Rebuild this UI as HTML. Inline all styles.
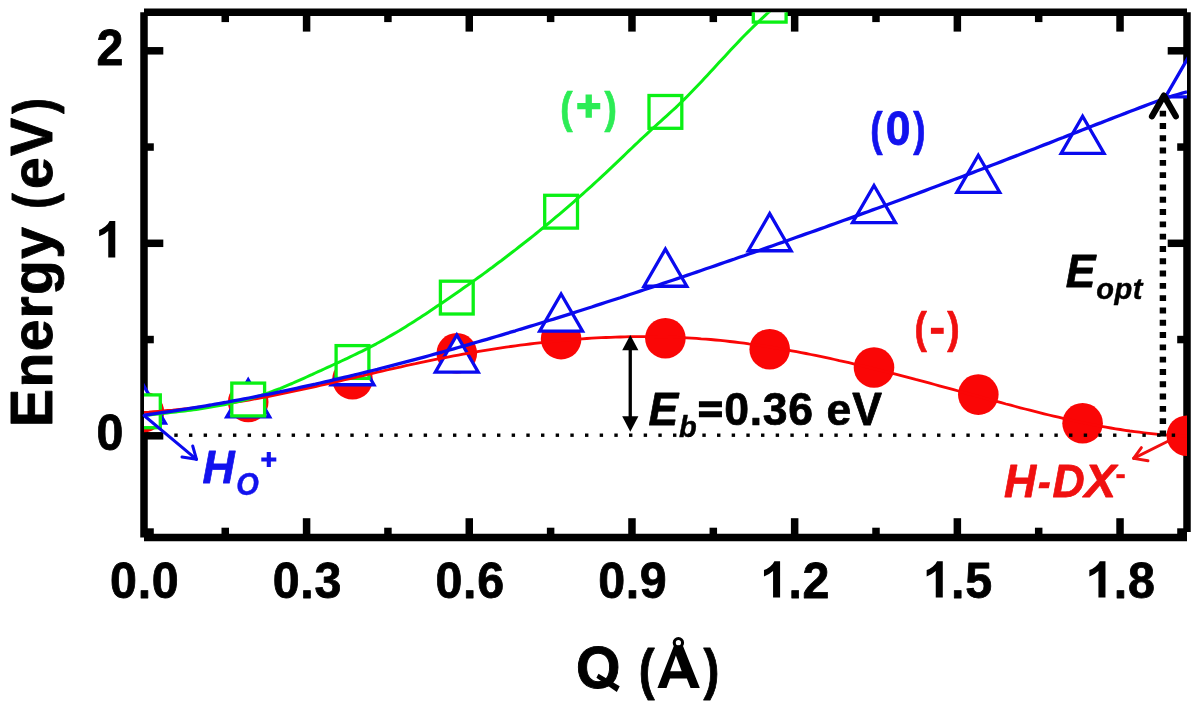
<!DOCTYPE html>
<html><head><meta charset="utf-8"><title>Energy vs Q</title>
<style>html,body{margin:0;padding:0;background:#fff;}svg{display:block;}text{font-family:"Liberation Sans",sans-serif;font-weight:bold;font-kerning:none;font-variant-ligatures:none;white-space:pre;}svg{will-change:transform;}.i{font-style:italic;}</style></head><body>
<svg width="1200" height="710" viewBox="0 0 1200 710">
<rect x="0" y="0" width="1200" height="710" fill="#ffffff"/>
<defs><clipPath id="plot"><rect x="144.0" y="12.3" width="1043.0" height="525.2"/></clipPath></defs>
<g stroke="#000" stroke-width="7.5" stroke-linecap="butt" fill="none">
<line x1="144.0" y1="12.3" x2="1187.0" y2="12.3"/>
<line x1="144.0" y1="537.5" x2="1187.0" y2="537.5"/>
<line x1="144.0" y1="12.3" x2="144.0" y2="537.5"/>
<line x1="1187.0" y1="12.3" x2="1187.0" y2="532.05"/>
<line x1="225.25" y1="12.3" x2="225.25" y2="22.10"/>
<line x1="225.25" y1="537.5" x2="225.25" y2="527.70"/>
<line x1="306.59" y1="12.3" x2="306.59" y2="31.60"/>
<line x1="306.59" y1="537.5" x2="306.59" y2="518.20"/>
<line x1="387.93" y1="12.3" x2="387.93" y2="22.10"/>
<line x1="387.93" y1="537.5" x2="387.93" y2="527.70"/>
<line x1="469.28" y1="12.3" x2="469.28" y2="31.60"/>
<line x1="469.28" y1="537.5" x2="469.28" y2="518.20"/>
<line x1="550.62" y1="12.3" x2="550.62" y2="22.10"/>
<line x1="550.62" y1="537.5" x2="550.62" y2="527.70"/>
<line x1="631.97" y1="12.3" x2="631.97" y2="31.60"/>
<line x1="631.97" y1="537.5" x2="631.97" y2="518.20"/>
<line x1="713.31" y1="12.3" x2="713.31" y2="22.10"/>
<line x1="713.31" y1="537.5" x2="713.31" y2="527.70"/>
<line x1="794.66" y1="12.3" x2="794.66" y2="31.60"/>
<line x1="794.66" y1="537.5" x2="794.66" y2="518.20"/>
<line x1="876.00" y1="12.3" x2="876.00" y2="22.10"/>
<line x1="876.00" y1="537.5" x2="876.00" y2="527.70"/>
<line x1="957.35" y1="12.3" x2="957.35" y2="31.60"/>
<line x1="957.35" y1="537.5" x2="957.35" y2="518.20"/>
<line x1="1038.69" y1="12.3" x2="1038.69" y2="22.10"/>
<line x1="1038.69" y1="537.5" x2="1038.69" y2="527.70"/>
<line x1="1120.04" y1="12.3" x2="1120.04" y2="31.60"/>
<line x1="1120.04" y1="537.5" x2="1120.04" y2="518.20"/>
<line x1="144.0" y1="532.05" x2="153.80" y2="532.05"/>
<line x1="1187.0" y1="532.05" x2="1177.20" y2="532.05"/>
<line x1="144.0" y1="435.80" x2="163.30" y2="435.80"/>
<line x1="1187.0" y1="435.80" x2="1167.70" y2="435.80"/>
<line x1="144.0" y1="339.55" x2="153.80" y2="339.55"/>
<line x1="1187.0" y1="339.55" x2="1177.20" y2="339.55"/>
<line x1="144.0" y1="243.30" x2="163.30" y2="243.30"/>
<line x1="1187.0" y1="243.30" x2="1167.70" y2="243.30"/>
<line x1="144.0" y1="147.05" x2="153.80" y2="147.05"/>
<line x1="1187.0" y1="147.05" x2="1177.20" y2="147.05"/>
<line x1="144.0" y1="50.80" x2="163.30" y2="50.80"/>
<line x1="1187.0" y1="50.80" x2="1167.70" y2="50.80"/>
</g>
<text font-size="50" fill="#000" stroke="#000" stroke-width="0.80" stroke-linejoin="round" transform="translate(109.65 597.60) scale(0.9680 1.0028)" x="0.46" y="0" xml:space="preserve">0</text>
<text font-size="50" fill="#000" stroke="#000" stroke-width="0.80" stroke-linejoin="round" transform="translate(137.46 597.60) scale(0.9680 1.0000)" x="0.23" y="0" xml:space="preserve">.</text>
<text font-size="50" fill="#000" stroke="#000" stroke-width="0.80" stroke-linejoin="round" transform="translate(151.35 597.60) scale(0.9680 1.0028)" x="0.46" y="0" xml:space="preserve">0</text>
<text font-size="50" fill="#000" stroke="#000" stroke-width="0.80" stroke-linejoin="round" transform="translate(272.34 597.60) scale(0.9680 1.0028)" x="0.46" y="0" xml:space="preserve">0</text>
<text font-size="50" fill="#000" stroke="#000" stroke-width="0.80" stroke-linejoin="round" transform="translate(300.15 597.60) scale(0.9680 1.0000)" x="0.23" y="0" xml:space="preserve">.</text>
<text font-size="50" fill="#000" stroke="#000" stroke-width="0.80" stroke-linejoin="round" transform="translate(314.04 597.60) scale(0.9680 1.0028)" x="0.46" y="0" xml:space="preserve">3</text>
<text font-size="50" fill="#000" stroke="#000" stroke-width="0.80" stroke-linejoin="round" transform="translate(435.03 597.60) scale(0.9680 1.0028)" x="0.46" y="0" xml:space="preserve">0</text>
<text font-size="50" fill="#000" stroke="#000" stroke-width="0.80" stroke-linejoin="round" transform="translate(462.84 597.60) scale(0.9680 1.0000)" x="0.23" y="0" xml:space="preserve">.</text>
<text font-size="50" fill="#000" stroke="#000" stroke-width="0.80" stroke-linejoin="round" transform="translate(476.73 597.60) scale(0.9680 1.0028)" x="0.46" y="0" xml:space="preserve">6</text>
<text font-size="50" fill="#000" stroke="#000" stroke-width="0.80" stroke-linejoin="round" transform="translate(597.72 597.60) scale(0.9680 1.0028)" x="0.46" y="0" xml:space="preserve">0</text>
<text font-size="50" fill="#000" stroke="#000" stroke-width="0.80" stroke-linejoin="round" transform="translate(625.53 597.60) scale(0.9680 1.0000)" x="0.23" y="0" xml:space="preserve">.</text>
<text font-size="50" fill="#000" stroke="#000" stroke-width="0.80" stroke-linejoin="round" transform="translate(639.42 597.60) scale(0.9680 1.0028)" x="0.46" y="0" xml:space="preserve">9</text>
<path d="M780.09 597.60 L773.06 597.60 L773.06 571.11 Q769.20 574.72 763.97 576.46 L763.97 570.09 Q766.73 569.18 769.96 566.67 Q773.20 564.13 774.40 561.22 L780.09 561.22 Z" fill="#000"/>
<text font-size="50" fill="#000" stroke="#000" stroke-width="0.80" stroke-linejoin="round" transform="translate(788.21 597.60) scale(0.9680 1.0000)" x="0.23" y="0" xml:space="preserve">.</text>
<text font-size="50" fill="#000" stroke="#000" stroke-width="0.80" stroke-linejoin="round" transform="translate(802.10 597.60) scale(0.9680 1.0028)" x="0.46" y="0" xml:space="preserve">2</text>
<path d="M942.78 597.60 L935.75 597.60 L935.75 571.11 Q931.89 574.72 926.66 576.46 L926.66 570.09 Q929.42 569.18 932.65 566.67 Q935.89 564.13 937.09 561.22 L942.78 561.22 Z" fill="#000"/>
<text font-size="50" fill="#000" stroke="#000" stroke-width="0.80" stroke-linejoin="round" transform="translate(950.90 597.60) scale(0.9680 1.0000)" x="0.23" y="0" xml:space="preserve">.</text>
<text font-size="50" fill="#000" stroke="#000" stroke-width="0.80" stroke-linejoin="round" transform="translate(964.79 597.60) scale(0.9680 1.0028)" x="0.46" y="0" xml:space="preserve">5</text>
<path d="M1105.47 597.60 L1098.44 597.60 L1098.44 571.11 Q1094.58 574.72 1089.35 576.46 L1089.35 570.09 Q1092.11 569.18 1095.34 566.67 Q1098.58 564.13 1099.78 561.22 L1105.47 561.22 Z" fill="#000"/>
<text font-size="50" fill="#000" stroke="#000" stroke-width="0.80" stroke-linejoin="round" transform="translate(1113.59 597.60) scale(0.9680 1.0000)" x="0.23" y="0" xml:space="preserve">.</text>
<text font-size="50" fill="#000" stroke="#000" stroke-width="0.80" stroke-linejoin="round" transform="translate(1127.48 597.60) scale(0.9680 1.0028)" x="0.46" y="0" xml:space="preserve">8</text>
<text font-size="50" fill="#000" stroke="#000" stroke-width="0.80" stroke-linejoin="round" transform="translate(96.00 450.00) scale(0.9680 1.0028)" x="0.46" y="0" xml:space="preserve">0</text>
<path d="M115.28 257.50 L108.25 257.50 L108.25 231.01 Q104.39 234.62 99.16 236.36 L99.16 229.99 Q101.92 229.08 105.15 226.57 Q108.39 224.03 109.59 221.12 L115.28 221.12 Z" fill="#000"/>
<text font-size="50" fill="#000" stroke="#000" stroke-width="0.80" stroke-linejoin="round" transform="translate(96.00 65.00) scale(0.9680 1.0028)" x="0.46" y="0" xml:space="preserve">2</text>
<text font-size="59" fill="#000" stroke="#000" stroke-width="0.94" stroke-linejoin="round" transform="translate(575.20 688.00) scale(0.9680 1.0174)" x="0.76" y="0" xml:space="preserve">O</text>
<path d="M598.5 673.7 L619.7 686.2 L616.8 691.9 L596.4 677.8 Z" fill="#000"/>
<text font-size="59" fill="#000" stroke="#000" stroke-width="0.94" stroke-linejoin="round" transform="translate(638.30 688.00) scale(0.8069 0.9557)" x="0.58" y="0" xml:space="preserve">(</text>
<path d="M699.83 688.00 L690.55 688.00 L686.86 678.41 L669.98 678.41 L666.50 688.00 L657.45 688.00 L673.90 645.77 L682.92 645.77 Z M681.71 671.29 L675.89 655.62 L670.18 671.29 Z" fill="#000"/>
<text font-size="59" fill="#000" stroke="#000" stroke-width="0.94" stroke-linejoin="round" transform="translate(700.45 688.00) scale(0.8069 0.9557)" x="3.88" y="0" xml:space="preserve">)</text>
<circle cx="678.4" cy="642.7" r="4.15" fill="none" stroke="#000" stroke-width="3.1"/>
<text font-size="59" fill="#000" stroke="#000" stroke-width="0.94" stroke-linejoin="round" transform="translate(52.10 427.70) rotate(-90) scale(0.9680 1.0174)" x="0.65" y="0" xml:space="preserve">E</text>
<text font-size="59" fill="#000" stroke="#000" stroke-width="0.94" stroke-linejoin="round" transform="translate(52.10 388.10) rotate(-90) scale(0.9680 0.9617)" x="0.60 38.03 72.02 96.22 133.65 167.54" y="0" xml:space="preserve">nergy </text>
<text font-size="59" fill="#000" stroke="#000" stroke-width="0.94" stroke-linejoin="round" transform="translate(52.10 209.54) rotate(-90) scale(0.8069 0.9557)" x="0.58" y="0" xml:space="preserve">(</text>
<text font-size="59" fill="#000" stroke="#000" stroke-width="0.94" stroke-linejoin="round" transform="translate(52.10 189.64) rotate(-90) scale(0.9680 0.9617)" x="0.54" y="0" xml:space="preserve">e</text>
<text font-size="59" fill="#000" stroke="#000" stroke-width="0.94" stroke-linejoin="round" transform="translate(52.10 156.58) rotate(-90) scale(0.9680 1.0174)" x="0.65" y="0" xml:space="preserve">V</text>
<text font-size="59" fill="#000" stroke="#000" stroke-width="0.94" stroke-linejoin="round" transform="translate(52.10 116.98) rotate(-90) scale(0.8069 0.9557)" x="3.88" y="0" xml:space="preserve">)</text>
<g clip-path="url(#plot)">
<circle cx="143.90" cy="412.00" r="20.3" fill="#fa0606"/>
<circle cx="248.20" cy="402.00" r="20.3" fill="#fa0606"/>
<circle cx="352.50" cy="379.30" r="20.3" fill="#fa0606"/>
<circle cx="456.80" cy="353.30" r="20.3" fill="#fa0606"/>
<circle cx="561.10" cy="339.10" r="20.3" fill="#fa0606"/>
<circle cx="665.40" cy="338.20" r="20.3" fill="#fa0606"/>
<circle cx="769.70" cy="349.20" r="20.3" fill="#fa0606"/>
<circle cx="874.00" cy="367.50" r="20.3" fill="#fa0606"/>
<circle cx="978.30" cy="394.60" r="20.3" fill="#fa0606"/>
<circle cx="1082.60" cy="423.30" r="20.3" fill="#fa0606"/>
<circle cx="1186.90" cy="435.70" r="20.3" fill="#fa0606"/>
<path d="M143.90 386.00 L165.34 423.14 L122.46 423.14 Z" fill="#fff" stroke="#0a0aee" stroke-width="3.3" stroke-linejoin="miter"/>
<path d="M248.20 379.80 L269.64 416.94 L226.76 416.94 Z" fill="#fff" stroke="#0a0aee" stroke-width="3.3" stroke-linejoin="miter"/>
<path d="M352.50 347.60 L373.94 384.74 L331.06 384.74 Z" fill="#fff" stroke="#0a0aee" stroke-width="3.3" stroke-linejoin="miter"/>
<path d="M456.80 335.00 L478.24 372.14 L435.36 372.14 Z" fill="#fff" stroke="#0a0aee" stroke-width="3.3" stroke-linejoin="miter"/>
<path d="M561.10 294.00 L582.54 331.14 L539.66 331.14 Z" fill="#fff" stroke="#0a0aee" stroke-width="3.3" stroke-linejoin="miter"/>
<path d="M665.40 249.10 L686.84 286.24 L643.96 286.24 Z" fill="#fff" stroke="#0a0aee" stroke-width="3.3" stroke-linejoin="miter"/>
<path d="M769.70 213.60 L791.14 250.74 L748.26 250.74 Z" fill="#fff" stroke="#0a0aee" stroke-width="3.3" stroke-linejoin="miter"/>
<path d="M874.00 185.50 L895.44 222.64 L852.56 222.64 Z" fill="#fff" stroke="#0a0aee" stroke-width="3.3" stroke-linejoin="miter"/>
<path d="M978.30 155.30 L999.74 192.44 L956.86 192.44 Z" fill="#fff" stroke="#0a0aee" stroke-width="3.3" stroke-linejoin="miter"/>
<path d="M1082.60 116.30 L1104.04 153.44 L1061.16 153.44 Z" fill="#fff" stroke="#0a0aee" stroke-width="3.3" stroke-linejoin="miter"/>
<path d="M1186.90 59.80 L1208.34 96.94 L1165.46 96.94 Z" fill="#fff" stroke="#0a0aee" stroke-width="3.3" stroke-linejoin="miter"/>
<rect x="127.50" y="394.90" width="32.80" height="32.80" fill="#fff" stroke="#0af014" stroke-width="3.3"/>
<rect x="231.80" y="383.10" width="32.80" height="32.80" fill="#fff" stroke="#0af014" stroke-width="3.3"/>
<rect x="336.10" y="345.60" width="32.80" height="32.80" fill="#fff" stroke="#0af014" stroke-width="3.3"/>
<rect x="440.40" y="281.20" width="32.80" height="32.80" fill="#fff" stroke="#0af014" stroke-width="3.3"/>
<rect x="544.70" y="195.30" width="32.80" height="32.80" fill="#fff" stroke="#0af014" stroke-width="3.3"/>
<rect x="649.00" y="95.50" width="32.80" height="32.80" fill="#fff" stroke="#0af014" stroke-width="3.3"/>
<rect x="753.30" y="-10.70" width="32.80" height="32.80" fill="#fff" stroke="#0af014" stroke-width="3.3"/>
<path d="M144.0 412.4 L148.8 412.1 L153.5 411.7 L158.3 411.3 L163.1 410.9 L167.8 410.5 L172.6 410.1 L177.3 409.6 L182.1 409.1 L186.9 408.6 L191.6 408.1 L196.4 407.5 L201.2 407.0 L205.9 406.4 L210.7 405.7 L215.4 405.1 L220.2 404.4 L225.0 403.8 L229.7 403.0 L234.5 402.3 L239.3 401.6 L244.0 400.8 L248.8 400.0 L253.5 399.1 L258.3 398.3 L263.1 397.4 L267.8 396.5 L272.6 395.6 L277.4 394.7 L282.1 393.7 L286.9 392.7 L291.6 391.7 L296.4 390.7 L301.2 389.7 L305.9 388.7 L310.7 387.6 L315.5 386.6 L320.2 385.5 L325.0 384.4 L329.7 383.3 L334.5 382.2 L339.3 381.1 L344.0 380.0 L348.8 378.9 L353.6 377.8 L358.3 376.7 L363.1 375.6 L367.8 374.4 L372.6 373.3 L377.4 372.2 L382.1 371.1 L386.9 370.0 L391.7 368.9 L396.4 367.9 L401.2 366.8 L405.9 365.7 L410.7 364.7 L415.5 363.7 L420.2 362.6 L425.0 361.6 L429.8 360.6 L434.5 359.7 L439.3 358.7 L444.0 357.8 L448.8 356.9 L453.6 355.9 L458.3 355.1 L463.1 354.2 L467.9 353.3 L472.6 352.5 L477.4 351.7 L482.1 350.9 L486.9 350.1 L491.7 349.3 L496.4 348.6 L501.2 347.9 L506.0 347.2 L510.7 346.5 L515.5 345.8 L520.2 345.2 L525.0 344.6 L529.8 344.0 L534.5 343.4 L539.3 342.8 L544.1 342.3 L548.8 341.8 L553.6 341.3 L558.3 340.8 L563.1 340.4 L567.9 340.0 L572.6 339.6 L577.4 339.2 L582.2 338.8 L586.9 338.5 L591.7 338.2 L596.4 337.9 L601.2 337.7 L606.0 337.5 L610.7 337.3 L615.5 337.1 L620.3 337.0 L625.0 336.8 L629.8 336.7 L634.5 336.7 L639.3 336.6 L644.1 336.6 L648.8 336.7 L653.6 336.7 L658.4 336.8 L663.1 336.9 L667.9 337.0 L672.6 337.2 L677.4 337.4 L682.2 337.6 L686.9 337.8 L691.7 338.1 L696.5 338.4 L701.2 338.8 L706.0 339.1 L710.7 339.5 L715.5 340.0 L720.3 340.4 L725.0 340.9 L729.8 341.5 L734.6 342.0 L739.3 342.6 L744.1 343.2 L748.8 343.9 L753.6 344.5 L758.4 345.2 L763.1 345.9 L767.9 346.7 L772.7 347.5 L777.4 348.3 L782.2 349.1 L786.9 349.9 L791.7 350.8 L796.5 351.7 L801.2 352.6 L806.0 353.5 L810.8 354.5 L815.5 355.4 L820.3 356.4 L825.0 357.4 L829.8 358.4 L834.6 359.5 L839.3 360.6 L844.1 361.6 L848.9 362.7 L853.6 363.8 L858.4 365.0 L863.1 366.1 L867.9 367.2 L872.7 368.4 L877.4 369.6 L882.2 370.8 L887.0 372.0 L891.7 373.2 L896.5 374.4 L901.2 375.6 L906.0 376.9 L910.8 378.1 L915.5 379.4 L920.3 380.6 L925.1 381.9 L929.8 383.2 L934.6 384.5 L939.3 385.8 L944.1 387.1 L948.9 388.4 L953.6 389.7 L958.4 391.0 L963.2 392.3 L967.9 393.6 L972.7 394.9 L977.4 396.2 L982.2 397.5 L987.0 398.8 L991.7 400.1 L996.5 401.4 L1001.3 402.7 L1006.0 404.0 L1010.8 405.2 L1015.5 406.5 L1020.3 407.8 L1025.1 409.0 L1029.8 410.2 L1034.6 411.4 L1039.4 412.6 L1044.1 413.8 L1048.9 415.0 L1053.6 416.1 L1058.4 417.2 L1063.2 418.3 L1067.9 419.4 L1072.7 420.5 L1077.5 421.5 L1082.2 422.5 L1087.0 423.5 L1091.7 424.5 L1096.5 425.4 L1101.3 426.3 L1106.0 427.1 L1110.8 428.0 L1115.6 428.8 L1120.3 429.5 L1125.1 430.3 L1129.8 431.0 L1134.6 431.6 L1139.4 432.2 L1144.1 432.8 L1148.9 433.4 L1153.7 433.9 L1158.4 434.3 L1163.2 434.7 L1167.9 435.1 L1172.7 435.4 L1177.5 435.7 L1182.2 435.9 L1187.0 436.1" fill="none" stroke="#fa0606" stroke-width="2.8" stroke-linejoin="round"/>
<path d="M144.0 415.6 L146.9 415.3 L149.8 414.9 L152.7 414.6 L155.6 414.3 L158.5 414.0 L161.4 413.6 L164.3 413.3 L167.2 413.0 L170.1 412.6 L173.0 412.3 L175.9 412.0 L178.8 411.6 L181.8 411.3 L184.7 410.9 L187.6 410.5 L190.5 410.2 L193.4 409.8 L196.3 409.4 L199.2 408.9 L202.1 408.5 L205.0 408.1 L207.9 407.6 L210.8 407.1 L213.7 406.6 L216.6 406.1 L219.5 405.6 L222.4 405.0 L225.3 404.5 L228.2 403.9 L231.1 403.2 L234.0 402.6 L236.9 401.9 L239.8 401.2 L242.7 400.5 L245.6 399.8 L248.5 399.0 L251.5 398.2 L254.4 397.3 L257.3 396.5 L260.2 395.6 L263.1 394.6 L266.0 393.7 L268.9 392.7 L271.8 391.6 L274.7 390.5 L277.6 389.4 L280.5 388.3 L283.4 387.1 L286.3 385.9 L289.2 384.7 L292.1 383.5 L295.0 382.2 L297.9 380.9 L300.8 379.6 L303.7 378.3 L306.6 377.0 L309.5 375.7 L312.4 374.4 L315.3 373.0 L318.2 371.7 L321.2 370.4 L324.1 369.0 L327.0 367.7 L329.9 366.4 L332.8 365.0 L335.7 363.7 L338.6 362.4 L341.5 361.0 L344.4 359.7 L347.3 358.3 L350.2 356.9 L353.1 355.5 L356.0 354.1 L358.9 352.7 L361.8 351.3 L364.7 349.8 L367.6 348.3 L370.5 346.8 L373.4 345.3 L376.3 343.8 L379.2 342.2 L382.1 340.6 L385.0 339.0 L387.9 337.3 L390.8 335.6 L393.8 333.9 L396.7 332.2 L399.6 330.5 L402.5 328.7 L405.4 326.9 L408.3 325.1 L411.2 323.3 L414.1 321.4 L417.0 319.6 L419.9 317.7 L422.8 315.8 L425.7 313.9 L428.6 312.0 L431.5 310.0 L434.4 308.1 L437.3 306.1 L440.2 304.2 L443.1 302.2 L446.0 300.2 L448.9 298.2 L451.8 296.2 L454.7 294.2 L457.6 292.2 L460.5 290.2 L463.5 288.1 L466.4 286.1 L469.3 284.0 L472.2 282.0 L475.1 279.9 L478.0 277.8 L480.9 275.7 L483.8 273.6 L486.7 271.5 L489.6 269.3 L492.5 267.2 L495.4 265.0 L498.3 262.8 L501.2 260.7 L504.1 258.5 L507.0 256.3 L509.9 254.0 L512.8 251.8 L515.7 249.6 L518.6 247.3 L521.5 245.0 L524.4 242.8 L527.3 240.5 L530.2 238.2 L533.2 235.8 L536.1 233.5 L539.0 231.1 L541.9 228.8 L544.8 226.4 L547.7 224.0 L550.6 221.6 L553.5 219.2 L556.4 216.7 L559.3 214.3 L562.2 211.8 L565.1 209.3 L568.0 206.8 L570.9 204.3 L573.8 201.8 L576.7 199.2 L579.6 196.7 L582.5 194.1 L585.4 191.5 L588.3 188.9 L591.2 186.3 L594.1 183.6 L597.0 181.0 L599.9 178.3 L602.8 175.6 L605.8 172.9 L608.7 170.1 L611.6 167.4 L614.5 164.6 L617.4 161.9 L620.3 159.1 L623.2 156.3 L626.1 153.5 L629.0 150.7 L631.9 148.0 L634.8 145.2 L637.7 142.5 L640.6 139.7 L643.5 137.0 L646.4 134.3 L649.3 131.6 L652.2 128.9 L655.1 126.3 L658.0 123.7 L660.9 121.1 L663.8 118.4 L666.7 115.8 L669.6 113.2 L672.5 110.5 L675.5 107.8 L678.4 105.0 L681.3 102.2 L684.2 99.4 L687.1 96.5 L690.0 93.5 L692.9 90.5 L695.8 87.5 L698.7 84.5 L701.6 81.4 L704.5 78.3 L707.4 75.2 L710.3 72.1 L713.2 68.9 L716.1 65.8 L719.0 62.6 L721.9 59.5 L724.8 56.4 L727.7 53.2 L730.6 50.1 L733.5 47.0 L736.4 43.9 L739.3 40.9 L742.2 37.8 L745.2 34.8 L748.1 31.9 L751.0 29.0 L753.9 26.1 L756.8 23.3 L759.7 20.5 L762.6 17.8 L765.5 15.1 L768.4 12.5 L771.3 10.0 L774.2 7.6 L777.1 5.2 L780.0 2.9" fill="none" stroke="#0af014" stroke-width="3.0" stroke-linejoin="round"/>
<path d="M144.0 415.1 L148.8 414.5 L153.5 413.8 L158.3 413.2 L163.1 412.5 L167.8 411.8 L172.6 411.1 L177.3 410.4 L182.1 409.6 L186.9 408.9 L191.6 408.1 L196.4 407.4 L201.2 406.6 L205.9 405.8 L210.7 405.0 L215.4 404.1 L220.2 403.3 L225.0 402.5 L229.7 401.6 L234.5 400.7 L239.3 399.8 L244.0 398.9 L248.8 398.0 L253.5 397.1 L258.3 396.2 L263.1 395.2 L267.8 394.3 L272.6 393.3 L277.4 392.3 L282.1 391.3 L286.9 390.3 L291.6 389.3 L296.4 388.3 L301.2 387.2 L305.9 386.2 L310.7 385.1 L315.5 384.1 L320.2 383.0 L325.0 381.9 L329.7 380.8 L334.5 379.7 L339.3 378.6 L344.0 377.4 L348.8 376.3 L353.6 375.2 L358.3 374.0 L363.1 372.8 L367.8 371.6 L372.6 370.5 L377.4 369.3 L382.1 368.0 L386.9 366.8 L391.7 365.6 L396.4 364.4 L401.2 363.1 L405.9 361.9 L410.7 360.6 L415.5 359.3 L420.2 358.1 L425.0 356.8 L429.8 355.5 L434.5 354.2 L439.3 352.8 L444.0 351.5 L448.8 350.2 L453.6 348.9 L458.3 347.5 L463.1 346.2 L467.9 344.8 L472.6 343.4 L477.4 342.0 L482.1 340.7 L486.9 339.3 L491.7 337.9 L496.4 336.5 L501.2 335.1 L506.0 333.6 L510.7 332.2 L515.5 330.8 L520.2 329.3 L525.0 327.9 L529.8 326.4 L534.5 325.0 L539.3 323.5 L544.1 322.0 L548.8 320.5 L553.6 319.1 L558.3 317.6 L563.1 316.1 L567.9 314.6 L572.6 313.1 L577.4 311.5 L582.2 310.0 L586.9 308.5 L591.7 307.0 L596.4 305.4 L601.2 303.9 L606.0 302.3 L610.7 300.8 L615.5 299.2 L620.3 297.7 L625.0 296.1 L629.8 294.5 L634.5 293.0 L639.3 291.4 L644.1 289.8 L648.8 288.2 L653.6 286.6 L658.4 285.0 L663.1 283.4 L667.9 281.8 L672.6 280.2 L677.4 278.6 L682.2 277.0 L686.9 275.4 L691.7 273.7 L696.5 272.1 L701.2 270.5 L706.0 268.8 L710.7 267.2 L715.5 265.6 L720.3 263.9 L725.0 262.3 L729.8 260.6 L734.6 259.0 L739.3 257.3 L744.1 255.7 L748.8 254.0 L753.6 252.4 L758.4 250.7 L763.1 249.0 L767.9 247.4 L772.7 245.7 L777.4 244.0 L782.2 242.4 L786.9 240.7 L791.7 239.0 L796.5 237.3 L801.2 235.6 L806.0 233.9 L810.8 232.2 L815.5 230.6 L820.3 228.9 L825.0 227.2 L829.8 225.4 L834.6 223.7 L839.3 222.0 L844.1 220.3 L848.9 218.6 L853.6 216.9 L858.4 215.1 L863.1 213.4 L867.9 211.7 L872.7 209.9 L877.4 208.2 L882.2 206.5 L887.0 204.7 L891.7 203.0 L896.5 201.2 L901.2 199.5 L906.0 197.7 L910.8 195.9 L915.5 194.2 L920.3 192.4 L925.1 190.6 L929.8 188.8 L934.6 187.0 L939.3 185.2 L944.1 183.4 L948.9 181.6 L953.6 179.8 L958.4 178.0 L963.2 176.2 L967.9 174.4 L972.7 172.6 L977.4 170.8 L982.2 169.0 L987.0 167.1 L991.7 165.3 L996.5 163.5 L1001.3 161.6 L1006.0 159.8 L1010.8 157.9 L1015.5 156.1 L1020.3 154.2 L1025.1 152.4 L1029.8 150.5 L1034.6 148.7 L1039.4 146.8 L1044.1 144.9 L1048.9 143.1 L1053.6 141.2 L1058.4 139.3 L1063.2 137.5 L1067.9 135.6 L1072.7 133.7 L1077.5 131.9 L1082.2 130.0 L1087.0 128.1 L1091.7 126.3 L1096.5 124.4 L1101.3 122.6 L1106.0 120.7 L1110.8 118.9 L1115.6 117.0 L1120.3 115.2 L1125.1 113.4 L1129.8 111.5 L1134.6 109.7 L1139.4 107.9 L1144.1 106.1 L1148.9 104.3 L1153.7 102.5 L1158.4 100.8 L1163.2 99.1 L1167.9 97.5 L1172.7 95.9 L1177.5 94.5 L1182.2 93.1 L1187.0 91.9" fill="none" stroke="#0a0aee" stroke-width="3.3" stroke-linejoin="round"/>
</g>
<g fill="#000"><rect x="174.30" y="433.5" width="3.4" height="3.4"/><rect x="188.97" y="433.5" width="3.4" height="3.4"/><rect x="203.64" y="433.5" width="3.4" height="3.4"/><rect x="218.30" y="433.5" width="3.4" height="3.4"/><rect x="232.97" y="433.5" width="3.4" height="3.4"/><rect x="247.64" y="433.5" width="3.4" height="3.4"/><rect x="262.31" y="433.5" width="3.4" height="3.4"/><rect x="276.98" y="433.5" width="3.4" height="3.4"/><rect x="291.64" y="433.5" width="3.4" height="3.4"/><rect x="306.31" y="433.5" width="3.4" height="3.4"/><rect x="320.98" y="433.5" width="3.4" height="3.4"/><rect x="335.65" y="433.5" width="3.4" height="3.4"/><rect x="350.32" y="433.5" width="3.4" height="3.4"/><rect x="364.98" y="433.5" width="3.4" height="3.4"/><rect x="379.65" y="433.5" width="3.4" height="3.4"/><rect x="394.32" y="433.5" width="3.4" height="3.4"/><rect x="408.99" y="433.5" width="3.4" height="3.4"/><rect x="423.66" y="433.5" width="3.4" height="3.4"/><rect x="438.32" y="433.5" width="3.4" height="3.4"/><rect x="452.99" y="433.5" width="3.4" height="3.4"/><rect x="467.66" y="433.5" width="3.4" height="3.4"/><rect x="482.33" y="433.5" width="3.4" height="3.4"/><rect x="497.00" y="433.5" width="3.4" height="3.4"/><rect x="511.66" y="433.5" width="3.4" height="3.4"/><rect x="526.33" y="433.5" width="3.4" height="3.4"/><rect x="541.00" y="433.5" width="3.4" height="3.4"/><rect x="555.67" y="433.5" width="3.4" height="3.4"/><rect x="570.34" y="433.5" width="3.4" height="3.4"/><rect x="585.00" y="433.5" width="3.4" height="3.4"/><rect x="599.67" y="433.5" width="3.4" height="3.4"/><rect x="614.34" y="433.5" width="3.4" height="3.4"/><rect x="629.01" y="433.5" width="3.4" height="3.4"/><rect x="643.68" y="433.5" width="3.4" height="3.4"/><rect x="658.34" y="433.5" width="3.4" height="3.4"/><rect x="673.01" y="433.5" width="3.4" height="3.4"/><rect x="687.68" y="433.5" width="3.4" height="3.4"/><rect x="702.35" y="433.5" width="3.4" height="3.4"/><rect x="717.02" y="433.5" width="3.4" height="3.4"/><rect x="731.68" y="433.5" width="3.4" height="3.4"/><rect x="746.35" y="433.5" width="3.4" height="3.4"/><rect x="761.02" y="433.5" width="3.4" height="3.4"/><rect x="775.69" y="433.5" width="3.4" height="3.4"/><rect x="790.36" y="433.5" width="3.4" height="3.4"/><rect x="805.02" y="433.5" width="3.4" height="3.4"/><rect x="819.69" y="433.5" width="3.4" height="3.4"/><rect x="834.36" y="433.5" width="3.4" height="3.4"/><rect x="849.03" y="433.5" width="3.4" height="3.4"/><rect x="863.70" y="433.5" width="3.4" height="3.4"/><rect x="878.36" y="433.5" width="3.4" height="3.4"/><rect x="893.03" y="433.5" width="3.4" height="3.4"/><rect x="907.70" y="433.5" width="3.4" height="3.4"/><rect x="922.37" y="433.5" width="3.4" height="3.4"/><rect x="937.04" y="433.5" width="3.4" height="3.4"/><rect x="951.70" y="433.5" width="3.4" height="3.4"/><rect x="966.37" y="433.5" width="3.4" height="3.4"/><rect x="981.04" y="433.5" width="3.4" height="3.4"/><rect x="995.71" y="433.5" width="3.4" height="3.4"/><rect x="1010.38" y="433.5" width="3.4" height="3.4"/><rect x="1025.04" y="433.5" width="3.4" height="3.4"/><rect x="1039.71" y="433.5" width="3.4" height="3.4"/><rect x="1054.38" y="433.5" width="3.4" height="3.4"/><rect x="1069.05" y="433.5" width="3.4" height="3.4"/><rect x="1083.72" y="433.5" width="3.4" height="3.4"/><rect x="1098.38" y="433.5" width="3.4" height="3.4"/><rect x="1113.05" y="433.5" width="3.4" height="3.4"/><rect x="1127.72" y="433.5" width="3.4" height="3.4"/><rect x="1142.39" y="433.5" width="3.4" height="3.4"/><rect x="1157.06" y="433.5" width="3.4" height="3.4"/><rect x="1171.72" y="433.5" width="3.4" height="3.4"/></g>
<g fill="#000" stroke="none">
<rect x="628.6" y="345" width="3.3" height="78"/>
<path d="M630.3 335 L638.4 350.2 L622.2 350.2 Z"/>
<path d="M630.3 431.7 L638.4 416.2 L622.2 416.2 Z"/>
</g>
<text font-size="46" fill="#000" stroke="#000" stroke-width="0.74" stroke-linejoin="round" class="i" transform="translate(648.00 425.30) scale(0.9680 1.0174)" x="0.51" y="0" xml:space="preserve">E</text>
<text font-size="30" fill="#000" stroke="#000" stroke-width="0.48" stroke-linejoin="round" class="i" transform="translate(678.68 436.50) scale(0.9680 0.9617)" x="0.30" y="0" xml:space="preserve">b</text>
<path d="M698.92 407.31 L721.94 407.31 L721.94 401.29 L698.92 401.29 Z M698.92 417.30 L721.94 417.30 L721.94 411.31 L698.92 411.31 Z" fill="#000"/>
<text font-size="46" fill="#000" stroke="#000" stroke-width="0.74" stroke-linejoin="round" transform="translate(723.87 425.30) scale(0.9680 1.0028)" x="0.42" y="0" xml:space="preserve">0</text>
<text font-size="46" fill="#000" stroke="#000" stroke-width="0.74" stroke-linejoin="round" transform="translate(749.45 425.30) scale(0.9680 1.0000)" x="0.21" y="0" xml:space="preserve">.</text>
<text font-size="46" fill="#000" stroke="#000" stroke-width="0.74" stroke-linejoin="round" transform="translate(762.23 425.30) scale(0.9680 1.0028)" x="0.42 26.85 53.07" y="0" xml:space="preserve">36 </text>
<text font-size="46" fill="#000" stroke="#000" stroke-width="0.74" stroke-linejoin="round" transform="translate(826.18 425.30) scale(0.9680 0.9617)" x="0.42" y="0" xml:space="preserve">e</text>
<text font-size="46" fill="#000" stroke="#000" stroke-width="0.74" stroke-linejoin="round" transform="translate(851.76 425.30) scale(0.9680 1.0174)" x="0.51" y="0" xml:space="preserve">V</text>
<line x1="1162.9" y1="110.7" x2="1162.9" y2="436.4" stroke="#000" stroke-width="6.4" stroke-dasharray="5.9 6.4"/>
<path d="M1152.0 116.2 L1163.9 95.6 L1175.8 116.2" fill="none" stroke="#000" stroke-width="6.2" stroke-linecap="round" stroke-linejoin="round"/>
<text font-size="46" fill="#000" stroke="#000" stroke-width="0.74" stroke-linejoin="round" class="i" transform="translate(1065.30 287.30) scale(0.9680 1.0174)" x="0.51" y="0" xml:space="preserve">E</text>
<text font-size="30" fill="#000" stroke="#000" stroke-width="0.48" stroke-linejoin="round" class="i" transform="translate(1095.98 298.50) scale(0.9680 0.9617)" x="0.30 19.23 38.03" y="0" xml:space="preserve">opt</text>
<text font-size="46" fill="#2cec55" stroke="#2cec55" stroke-width="0.74" stroke-linejoin="round" transform="translate(560.00 122.70) scale(0.8069 0.9652)" x="0.46" y="0" xml:space="preserve">(</text>
<path d="M577.23 109.31 L600.25 109.31 L600.25 102.98 L577.23 102.98 Z M585.56 117.67 L591.89 117.67 L591.89 94.62 L585.56 94.62 Z" fill="#2cec55"/>
<text font-size="46" fill="#2cec55" stroke="#2cec55" stroke-width="0.74" stroke-linejoin="round" transform="translate(602.18 122.70) scale(0.8069 0.9652)" x="3.02" y="0" xml:space="preserve">)</text>
<text font-size="46" fill="#1212ee" stroke="#1212ee" stroke-width="0.74" stroke-linejoin="round" transform="translate(870.00 145.10) scale(0.8069 0.9891)" x="0.46" y="0" xml:space="preserve">(</text>
<text font-size="46" fill="#1212ee" stroke="#1212ee" stroke-width="0.74" stroke-linejoin="round" transform="translate(885.32 145.10) scale(0.9680 1.0379)" x="0.42" y="0" xml:space="preserve">0</text>
<text font-size="46" fill="#1212ee" stroke="#1212ee" stroke-width="0.74" stroke-linejoin="round" transform="translate(910.90 145.10) scale(0.8069 0.9891)" x="3.02" y="0" xml:space="preserve">)</text>
<text font-size="46" fill="#f01010" stroke="#f01010" stroke-width="0.74" stroke-linejoin="round" transform="translate(914.20 342.50) scale(0.8069 0.9652)" x="0.46" y="0" xml:space="preserve">(</text>
<path d="M930.91 333.85 L943.71 333.85 L943.71 327.79 L930.91 327.79 Z" fill="#f01010"/>
<text font-size="46" fill="#f01010" stroke="#f01010" stroke-width="0.74" stroke-linejoin="round" transform="translate(944.84 342.50) scale(0.8069 0.9652)" x="3.02" y="0" xml:space="preserve">)</text>
<g fill="none" stroke="#0a0aee" stroke-width="3" stroke-linecap="round" stroke-linejoin="round">
<path d="M144 415.5 L196.5 459.3"/>
<path d="M182 457 L196.5 459.3 L192.7 446"/>
</g>
<text font-size="46" fill="#1212ee" stroke="#1212ee" stroke-width="0.74" stroke-linejoin="round" class="i" transform="translate(202.00 483.20) scale(0.9680 1.0174)" x="0.55" y="0" xml:space="preserve">H</text>
<text font-size="30" fill="#1212ee" stroke="#1212ee" stroke-width="0.48" stroke-linejoin="round" class="i" transform="translate(235.82 494.80) scale(0.9680 1.0174)" x="0.39" y="0" xml:space="preserve">O</text>
<path d="M261.30 461.57 L276.31 461.57 L276.31 457.44 L261.30 457.44 Z M266.73 467.02 L270.87 467.02 L270.87 451.99 L266.73 451.99 Z" fill="#1212ee"/>
<g fill="none" stroke="#f01010" stroke-width="2.9" stroke-linecap="round" stroke-linejoin="round">
<path d="M1168.4 441 L1133.6 458.4"/>
<path d="M1141.4 447.6 L1133.6 458.4 L1148 460.7"/>
</g>
<text font-size="46" fill="#f01010" stroke="#f01010" stroke-width="0.74" stroke-linejoin="round" class="i" transform="translate(1003.40 497.00) scale(0.9680 1.0174)" x="0.55" y="0" xml:space="preserve">H</text>
<path d="M1038.50 488.35 L1048.79 488.35 L1050.08 482.29 L1039.79 482.29 Z" fill="#f01010"/>
<text font-size="46" fill="#f01010" stroke="#f01010" stroke-width="0.74" stroke-linejoin="round" class="i" transform="translate(1051.94 497.00) scale(0.9680 1.0174)" x="0.55" y="0" xml:space="preserve">D</text>
<text font-size="46" fill="#f01010" stroke="#f01010" stroke-width="0.74" stroke-linejoin="round" class="i" transform="translate(1083.86 497.00) scale(1.0261 1.0174)" x="0.51" y="0" xml:space="preserve">X</text>
<path d="M1116.41 478.16 L1124.76 478.16 L1124.76 474.21 L1116.41 474.21 Z" fill="#f01010"/>
</svg></body></html>
